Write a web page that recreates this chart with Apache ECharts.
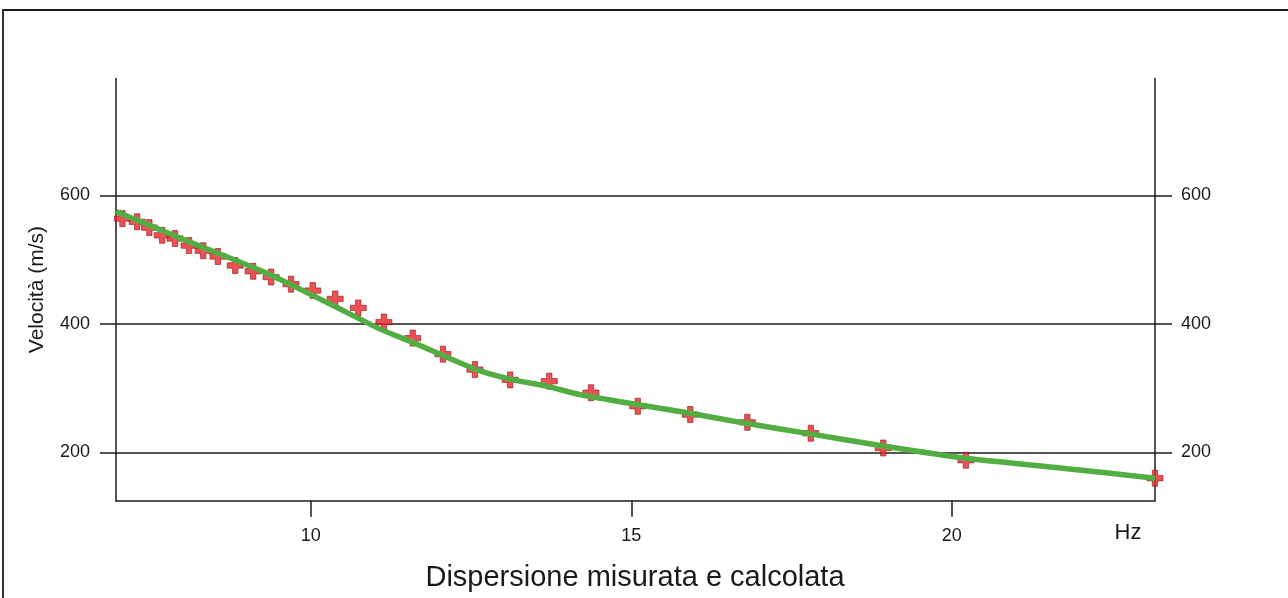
<!DOCTYPE html>
<html>
<head>
<meta charset="utf-8">
<title>Dispersione misurata e calcolata</title>
<script src="https://cdn.jsdelivr.net/npm/echarts@6/dist/echarts.min.js"></script>
<style>
  html, body { margin: 0; padding: 0; background: #ffffff; }
  #chart { width: 1288px; height: 598px; }
</style>
</head>
<body>
<div id="chart"></div>
<script>
// Measured dispersion points (frequency in Hz, phase velocity in m/s)
const measFreq = [7.06, 7.29, 7.48, 7.68, 7.88, 8.10, 8.32, 8.55, 8.82, 9.10,
                  9.38, 9.69, 10.03, 10.38, 10.74, 11.14, 11.59, 12.06, 12.56, 13.11,
                  13.72, 14.37, 15.10, 15.92, 16.81, 17.80, 18.93, 20.22, 23.17];
const measVel  = [564, 559, 550, 538, 533, 522, 514, 505, 491, 482,
                  473, 462, 452, 439, 425, 403, 378, 353, 329, 313,
                  311, 293, 272, 259, 247, 230, 207, 188, 160];

// Calculated (model) dispersion curve
const calcFreq = [6.96, 8.10, 9.29, 10.30, 11.08, 11.60, 12.13, 12.64, 13.16, 13.69,
                  14.20, 14.83, 15.92, 16.81, 17.79, 18.93, 20.22, 21.69, 23.17];
const calcVel  = [575, 528, 480, 431, 392, 371, 348, 327, 313, 303,
                  290, 279, 261, 245, 229, 210, 191, 176, 160];

// Axis ticks and extents
const xTicks = [10, 15, 20];
const yTicks = [200, 400, 600];
const xRange = [6.96, 23.17];
const yRange = [125, 782];

const FONT = '"Liberation Sans", Arial, Helvetica, sans-serif';
const INK = '#1c1c1c';

const chart = echarts.init(document.getElementById('chart'), null, { renderer: 'canvas' });

const plus = 'path://M4,0H8V4H12V8H8V12H4V8H0V4H4Z';

const yAxisCommon = {
  type: 'value',
  min: yRange[0],
  max: yRange[1],
  axisLine: { show: true, lineStyle: { color: INK, width: 1.5 } },
  axisTick: { show: true, inside: false, length: 16, customValues: yTicks,
              lineStyle: { color: INK, width: 1.5 } },
  axisLabel: { show: true, customValues: yTicks, margin: 26,
               color: '#1a1a1a', fontFamily: FONT, fontSize: 18 },
  splitLine: { show: false }
};

const option = {
  backgroundColor: '#ffffff',
  animation: false,
  grid: { left: 116, right: 133, top: 78.5, bottom: 97.3, containLabel: false },
  xAxis: {
    type: 'value',
    min: xRange[0],
    max: xRange[1],
    axisLine: { show: true, onZero: false, lineStyle: { color: INK, width: 1.5 } },
    axisTick: { show: true, inside: false, length: 16, customValues: xTicks,
                lineStyle: { color: INK, width: 1.5 } },
    axisLabel: { show: true, customValues: xTicks, margin: 26,
                 color: '#1a1a1a', fontFamily: FONT, fontSize: 18 },
    splitLine: { show: false }
  },
  yAxis: [
    Object.assign({}, yAxisCommon, {
      position: 'left',
      name: 'Velocità (m/s)',
      nameLocation: 'middle',
      nameGap: 68,
      nameTextStyle: { color: '#1a1a1a', fontFamily: FONT, fontSize: 21 },
      splitLine: { show: true, lineStyle: { color: INK, width: 1.5 } }
    }),
    Object.assign({}, yAxisCommon, {
      position: 'right',
      axisTick: Object.assign({}, yAxisCommon.axisTick, { length: 17 })
    })
  ],
  graphic: [
    {
      type: 'rect',
      silent: true,
      shape: { x: 3, y: 10, width: 1320, height: 620 },
      style: { fill: 'none', stroke: INK, lineWidth: 1.8 }
    },
    {
      type: 'text',
      silent: true,
      x: 1128, y: 533,
      style: { text: 'Hz', fill: '#1a1a1a', font: '22px ' + FONT,
               textAlign: 'center', textVerticalAlign: 'middle' }
    },
    {
      type: 'text',
      silent: true,
      x: 635, y: 578,
      style: { text: 'Dispersione misurata e calcolata', fill: '#1a1a1a', font: '29px ' + FONT,
               textAlign: 'center', textVerticalAlign: 'middle' }
    }
  ],
  series: [
    {
      name: 'misurata',
      type: 'scatter',
      yAxisIndex: 0,
      symbol: plus,
      symbolSize: 16,
      clip: false,
      z: 2,
      itemStyle: { color: '#e8262a', borderColor: '#8e1b1b', borderWidth: 0.8 },
      data: measFreq.map((f, i) => [f, measVel[i]])
    },
    {
      name: 'calcolata',
      type: 'line',
      yAxisIndex: 0,
      showSymbol: false,
      smooth: 0.2,
      z: 3,
      lineStyle: { color: '#52ad42', width: 5.5 },
      data: calcFreq.map((f, i) => [f, calcVel[i]])
    }
  ]
};

chart.setOption(option);
</script>
</body>
</html>
